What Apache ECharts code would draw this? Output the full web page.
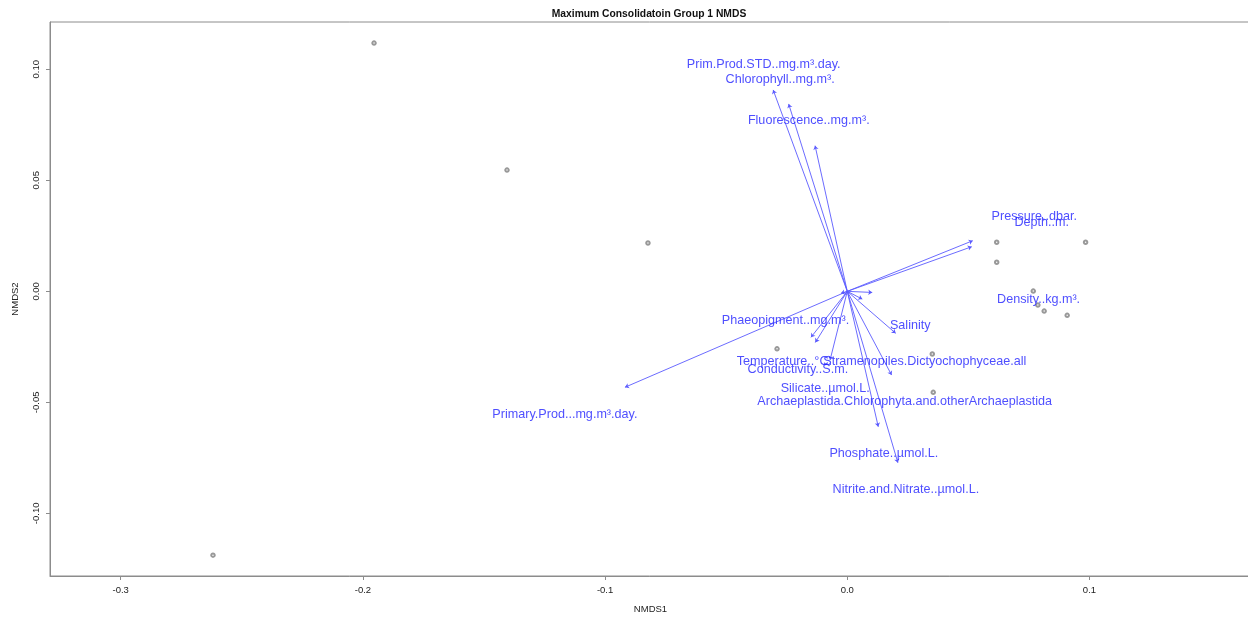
<!DOCTYPE html>
<html>
<head>
<meta charset="utf-8">
<script src="https://cdn.jsdelivr.net/npm/echarts@6/dist/echarts.min.js"></script>
<style>
  html, body { margin: 0; padding: 0; background: #fff; }
  #chart { width: 1248px; height: 619px; }
</style>
</head>
<body>
<div id="chart"></div>
<script>
// Site scores (NMDS1, NMDS2)
const siteX = [-0.1954, -0.1405, -0.0823, -0.2619, -0.0290, 0.0617, 0.0984, 0.0617, 0.0768, 0.0787, 0.0813, 0.0908, 0.0351, 0.0355];
const siteY = [0.1118, 0.0546, 0.0218, -0.1188, -0.0259, 0.0221, 0.0221, 0.0131, 0.0001, -0.0062, -0.0089, -0.0108, -0.0282, -0.0455];

// Fitted environmental / taxon vectors: arrow heads and label anchors
const vectorNames = [
  'Prim.Prod.STD..mg.m³.day.', 'Chlorophyll..mg.m³.', 'Fluorescence..mg.m³.',
  'Pressure..dbar.', 'Depth..m.', 'Density..kg.m³.', 'Phaeopigment..mg.m³.',
  'Salinity', 'Temperature..°C.', 'Conductivity..S.m.', 'Stramenopiles.Dictyochophyceae.all',
  'Silicate..µmol.L.', 'Archaeplastida.Chlorophyta.and.otherArchaeplastida',
  'Primary.Prod...mg.m³.day.', 'Phosphate..µmol.L.', 'Nitrite.and.Nitrate..µmol.L.'
];
const vectorX = [-0.0306, -0.0242, -0.0133, 0.0518, 0.0514, 0.0103, -0.0026, 0.0062, -0.0150, -0.0132, 0.0200, -0.0071, 0.0183, -0.0918, 0.0128, 0.0209];
const vectorY = [0.0907, 0.0844, 0.0656, 0.0228, 0.0201, -0.0005, -0.0009, -0.0035, -0.0207, -0.0230, -0.0189, -0.0309, -0.0377, -0.0432, -0.0610, -0.0772];
const labelX = [-0.0345, -0.0277, -0.0159, 0.0772, 0.0803, 0.0790, -0.0255, 0.0260, -0.0260, -0.0204, 0.0320, -0.0091, 0.0237, -0.1166, 0.0151, 0.0242];
const labelY = [0.1020, 0.0955, 0.0771, 0.0337, 0.0310, -0.0039, -0.0133, -0.0156, -0.0317, -0.0354, -0.0315, -0.0436, -0.0494, -0.0554, -0.0729, -0.0891];

// Axis ticks
const xTicks = [-0.3, -0.2, -0.1, 0.0, 0.1];
const yTicks = [-0.10, -0.05, 0.00, 0.05, 0.10];

const chart = echarts.init(document.getElementById('chart'));

const sites = siteX.map((x, i) => [x, siteY[i]]);
const arrows = vectorNames.map((n, i) => ({ name: n, coords: [[0, 0], [vectorX[i], vectorY[i]]] }));
const labels = vectorNames.map((n, i) => ({ name: n, value: [labelX[i], labelY[i]] }));

const axisFont = { fontFamily: 'Liberation Sans, Arial, sans-serif', fontSize: 9.5, color: '#222' };

chart.setOption({
  animation: false,
  backgroundColor: '#fff',
  grid: {
    left: 50, right: -3, top: 22, bottom: 43,
    show: true, borderColor: '#8c8c8c', borderWidth: 1,
    containLabel: false, outerBoundsMode: 'none'
  },
  xAxis: {
    type: 'value', min: -0.3292, max: 0.1667,
    name: 'NMDS1', nameLocation: 'middle', nameGap: 28,
    nameTextStyle: axisFont,
    axisLine: { show: true, onZero: false, lineStyle: { color: '#8c8c8c' } },
    axisTick: { show: true, length: 4, lineStyle: { color: '#8c8c8c' }, customValues: xTicks },
    axisLabel: { ...axisFont, margin: 9, customValues: xTicks, formatter: v => v.toFixed(1) },
    splitLine: { show: false }
  },
  yAxis: {
    type: 'value', min: -0.1282, max: 0.1213,
    name: 'NMDS2', nameLocation: 'middle', nameGap: 30,
    nameTextStyle: axisFont,
    axisLine: { show: true, onZero: false, lineStyle: { color: '#8c8c8c' } },
    axisTick: { show: true, length: 4, lineStyle: { color: '#8c8c8c' }, customValues: yTicks },
    axisLabel: { ...axisFont, margin: 9, rotate: 90, customValues: yTicks, formatter: v => v.toFixed(2) },
    splitLine: { show: false }
  },
  graphic: [{
    type: 'text', x: 649, y: 14,
    style: {
      text: 'Maximum Consolidatoin Group 1 NMDS', textAlign: 'center', textVerticalAlign: 'middle',
      font: 'bold 10.3px "Liberation Sans", Arial, sans-serif', fill: '#111'
    }
  }],
  series: [
    {
      type: 'scatter', data: sites, symbol: 'emptyCircle', symbolSize: 3.5,
      itemStyle: { color: '#808080', borderColor: '#808080', borderWidth: 0.6 }, silent: true, z: 2
    },
    {
      type: 'lines', coordinateSystem: 'cartesian2d', data: arrows,
      symbol: ['none', 'arrow'], symbolSize: [0, 4],
      lineStyle: { color: '#5a5aff', width: 0.9, opacity: 1 }, silent: true, z: 3
    },
    {
      type: 'scatter', data: labels, symbolSize: 0, silent: true, z: 4,
      label: {
        show: true, position: 'inside', formatter: p => p.name,
        fontFamily: 'Liberation Sans, Arial, sans-serif', fontSize: 12.6, color: '#2222ff',
        align: 'center', verticalAlign: 'middle'
      }
    }
  ]
});
</script>
</body>
</html>
